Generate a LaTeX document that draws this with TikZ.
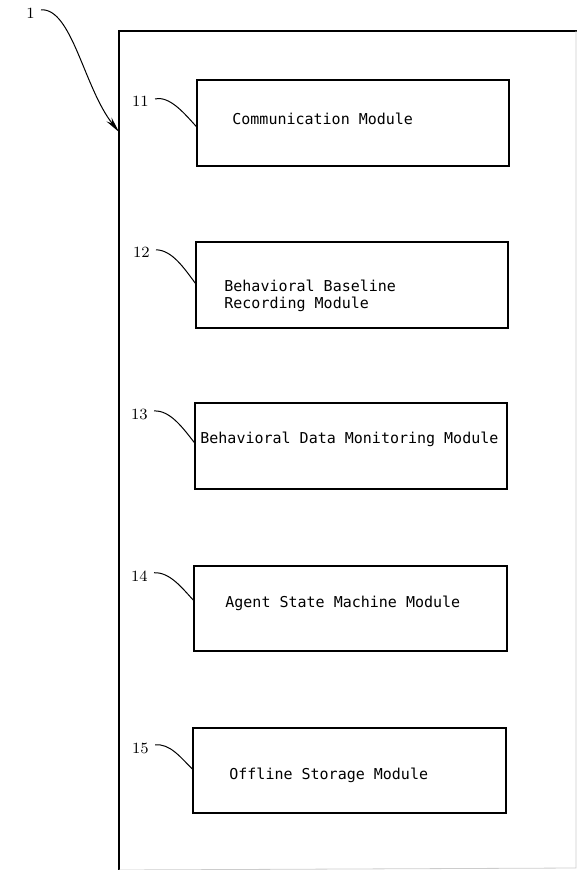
\documentclass[tikz,border=0pt]{standalone}
\usepackage{fontspec}
\newfontfamily\cadfont{DejaVu Sans Mono}
\usetikzlibrary{calc,arrows.meta}
\begin{document}
\begin{tikzpicture}[x=0.5pt,y=-0.5pt,
  modbox/.style={draw, line width=0.65pt, inner sep=0pt, outer sep=0pt,
    minimum width=156pt, minimum height=43pt, anchor=north west},
  modtext/.style={font=\cadfont\fontsize{7.5pt}{8.5pt}\selectfont, inner sep=0pt, anchor=base west, align=left},
  refnum/.style={font=\fontsize{7.8pt}{8pt}\selectfont, inner sep=0pt, anchor=base east},
  leader/.style={line width=0.5pt},
  frameline/.style={line width=0.75pt}]
\useasboundingbox (0,0) rectangle (577,870);
% outer frame
\coordinate (fa) at (119,870);
\coordinate (fb) at (119,31);
\coordinate (fc) at (577,31);
\coordinate (fd) at (576,31);
\coordinate (fe) at (576,868);
\coordinate (ft) at ($(fb)!0.1204!(fa)$);
\draw[frameline] (fa) -- (fb) -- (fc);
\draw[black!20, line width=0.4pt] (fd) -- (fe) -- (fa);
% boxes
\node[modbox] (b11) at (197,80) {};
\node[modbox, minimum height=43pt] (b12) at (196,242) {};
\node[modbox, minimum height=43pt] (b13) at (195,403) {};
\node[modbox, minimum width=156.5pt, minimum height=42.5pt] (b14) at (194,566) {};
\node[modbox, minimum width=156.5pt, minimum height=42.5pt] (b15) at (193,728) {};
% texts
\node[modtext] (t11) at (232,125) {Communication Module};
\node[modtext, anchor=north west, text depth=0pt] (t12) at (224,280) {Behavioral Baseline\\[-0.1pt]Recording Module};
\node[modtext] (t13) at (200,444) {Behavioral Data Monitoring Module};
\node[modtext] (t14) at (225,607) {Agent State Machine Module};
\node[modtext] (t15) at (229,779) {Offline Storage Module};
% reference numerals
\node[refnum] (n1) at (35,19) {1};
\node[refnum] (n11) at (149,107) {11};
\node[refnum] (n12) at (150,258) {12};
\node[refnum] (n13) at (148,419) {13};
\node[refnum] (n14) at (148,581) {14};
\node[refnum] (n15) at (149,753) {15};
% arrow 1
\draw[leader, -{Stealth[length=8pt,width=3.2pt]}] ($(n1.east)+(6,-4)$) .. controls (72,8) and (84,88) .. (ft);
% leaders
\draw[leader] ($(n11.east)+(6,-3)$) .. controls (170,96) and (184,113) .. ($(b11.north west)!0.55!(b11.south west)$);
\draw[leader] ($(n12.east)+(6,-3)$) .. controls (172,250) and (184,268) .. ($(b12.north west)!0.49!(b12.south west)$);
\draw[leader] ($(n13.east)+(6,-3)$) .. controls (170,410) and (183,428) .. ($(b13.north west)!0.47!(b13.south west)$);
\draw[leader] ($(n14.east)+(6,-3)$) .. controls (170,572) and (182,588) .. ($(b14.north west)!0.41!(b14.south west)$);
\draw[leader] ($(n15.east)+(6,-3)$) .. controls (170,743) and (181,758) .. ($(b15.north west)!0.49!(b15.south west)$);
\end{tikzpicture}
\end{document}
